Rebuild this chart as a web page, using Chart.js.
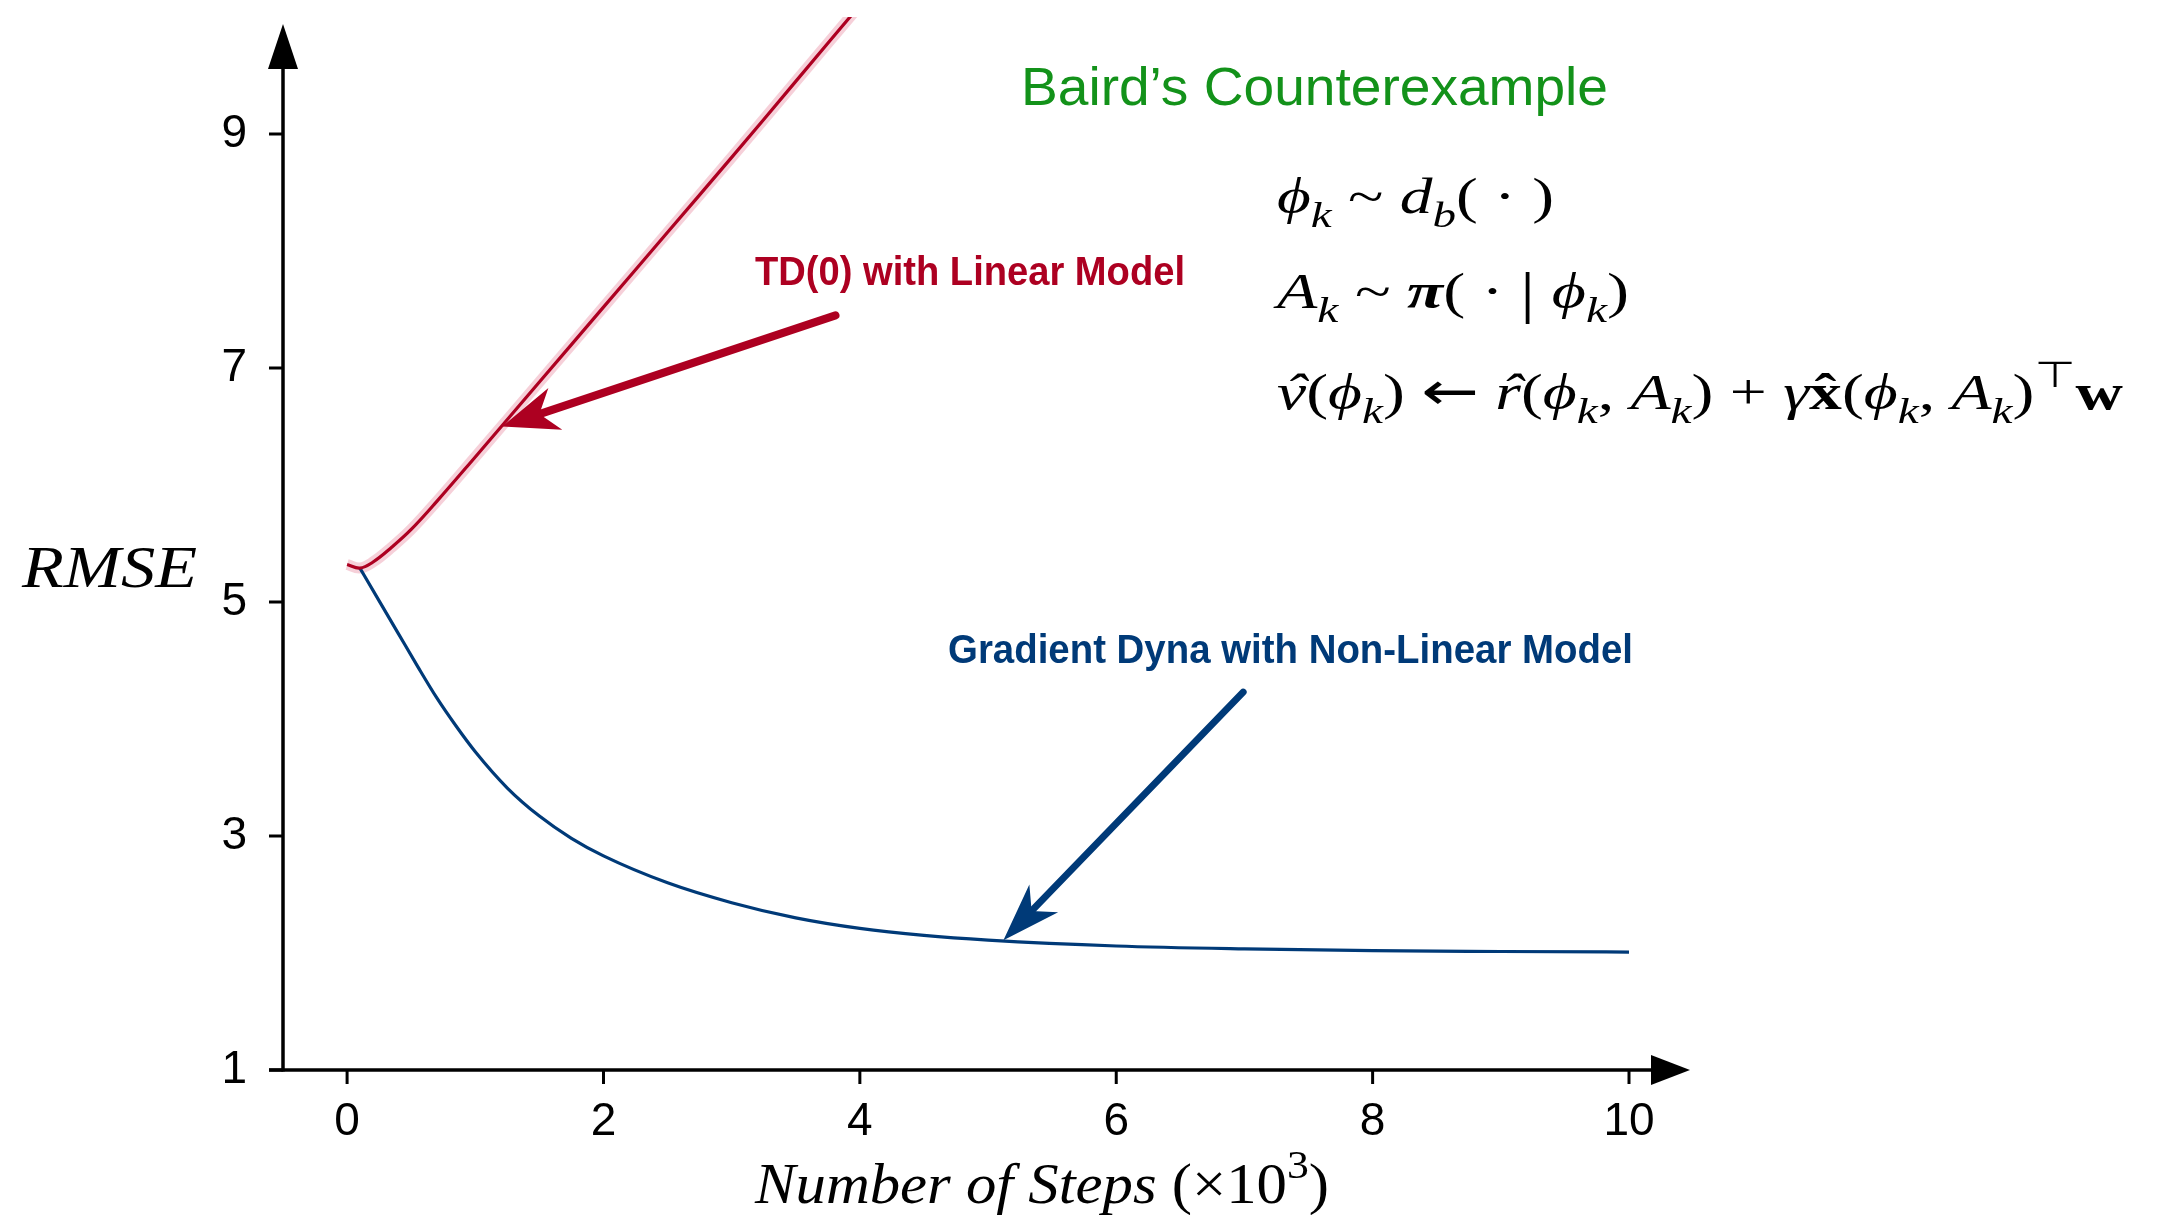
<!DOCTYPE html>
<html>
<head>
<meta charset="utf-8">
<script src="https://cdn.jsdelivr.net/npm/chart.js@4.4.0/dist/chart.umd.min.js"></script>
<style>
  html, body { margin: 0; padding: 0; background: #fff; }
</style>
</head>
<body>
<canvas id="baird_chart" width="2157" height="1215"></canvas>
<script>
// steps are in thousands
var tdSteps = [0, 0.1, 0.2, 0.35, 0.5, 0.7, 1.0, 1.5, 2.0, 2.5, 3.0, 3.5, 4.0];
var tdRmse  = [5.32, 5.29, 5.34, 5.47, 5.62, 5.86, 6.24, 6.88, 7.52, 8.16, 8.80, 9.45, 10.10];

var dynaSteps = [0.1, 0.25, 0.4, 0.55, 0.7, 0.85, 1.0, 1.25, 1.5, 1.75, 2.0, 2.5, 3.0, 3.5, 4.0, 4.5, 5.0, 6.0, 7.0, 8.0, 9.0, 10];
var dynaRmse  = [5.29, 5.01, 4.73, 4.45, 4.18, 3.94, 3.72, 3.41, 3.17, 2.98, 2.83, 2.60, 2.43, 2.30, 2.21, 2.15, 2.11, 2.06, 2.035, 2.02, 2.013, 2.008];

var xTicks = [0, 2, 4, 6, 8, 10];
var yTicks = [1, 3, 5, 7, 9];

var RED = '#ad0021';
var BLUE = '#003a78';
var GREEN = '#13921a';

function toPoints(xs, ys) {
  var pts = [];
  for (var i = 0; i < xs.length; i++) pts.push({x: xs[i], y: ys[i]});
  return pts;
}

function fitText(ctx, text, left, base, w, font, color) {
  ctx.save();
  ctx.font = font;
  ctx.fillStyle = color;
  ctx.textAlign = 'left';
  ctx.textBaseline = 'alphabetic';
  var s = w / ctx.measureText(text).width;
  ctx.translate(left, base);
  ctx.scale(s, 1);
  ctx.fillText(text, 0, 0);
  ctx.restore();
}

// little rich text drawer for the formulas (sub/sup, italic, bold, hats)
function partFont(p, size, fam) {
  var s = (p.sub || p.sup) ? size * 0.72 : size * (p.k || 1);
  return (p.i ? 'italic ' : '') + (p.b ? 'bold ' : '') + s + 'px ' + (p.f || fam);
}
function richWidth(ctx, parts, size, fam) {
  var w = 0;
  parts.forEach(function(p) {
    ctx.font = partFont(p, size, fam);
    w += ctx.measureText(p.t).width;
  });
  return w;
}
function drawRich(ctx, parts, left, base, size, fam, targetW) {
  ctx.save();
  ctx.fillStyle = '#000';
  ctx.textAlign = 'left';
  ctx.textBaseline = 'alphabetic';
  var s = targetW ? targetW / richWidth(ctx, parts, size, fam) : 1;
  ctx.translate(left, base);
  ctx.scale(s, 1);
  var x = 0;
  parts.forEach(function(p) {
    ctx.font = partFont(p, size, fam);
    var dy = p.sub ? size * 0.28 : (p.sup ? -size * 0.45 : (p.dy || 0));
    ctx.fillText(p.t, x, dy);
    var w = ctx.measureText(p.t).width;
    if (p.hat) {
      var hw = ctx.measureText('\u02C6').width;
      ctx.fillText('\u02C6', x + (w - hw) / 2 + (p.i ? size * 0.06 : 0), dy);
    }
    x += w;
  });
  ctx.restore();
}

function arrow(ctx, x1, y1, x2, y2, color, lw, headLen, headHalf) {
  var a = Math.atan2(y2 - y1, x2 - x1);
  var c = Math.cos(a), s = Math.sin(a);
  var nx = x2 - c * headLen * 0.7, ny = y2 - s * headLen * 0.7;
  ctx.save();
  ctx.strokeStyle = color;
  ctx.fillStyle = color;
  ctx.lineWidth = lw;
  ctx.lineCap = 'round';
  ctx.beginPath();
  ctx.moveTo(x1, y1);
  ctx.lineTo(nx, ny);
  ctx.stroke();
  var bx = x2 - c * headLen, by = y2 - s * headLen;
  ctx.beginPath();
  ctx.moveTo(x2, y2);
  ctx.lineTo(bx - s * headHalf, by + c * headHalf);
  ctx.lineTo(nx, ny);
  ctx.lineTo(bx + s * headHalf, by - c * headHalf);
  ctx.closePath();
  ctx.fill();
  ctx.restore();
}

var decorations = {
  id: 'decorations',
  afterDraw: function(chart) {
    var ctx = chart.ctx;
    var xs = chart.scales.x, ys = chart.scales.y;
    var x0 = xs.getPixelForValue(-0.5);
    var yb = ys.getPixelForValue(1);

    ctx.save();
    ctx.strokeStyle = '#000';
    ctx.fillStyle = '#000';
    ctx.lineWidth = 3.5;
    ctx.lineCap = 'butt';
    // y axis + arrow
    ctx.beginPath();
    ctx.moveTo(x0, yb + 1.5);
    ctx.lineTo(x0, 60);
    ctx.stroke();
    ctx.beginPath();
    ctx.moveTo(x0, 24);
    ctx.lineTo(x0 - 15, 69);
    ctx.lineTo(x0 + 15, 69);
    ctx.closePath();
    ctx.fill();
    // x axis + arrow
    ctx.beginPath();
    ctx.moveTo(x0 - 14, yb);
    ctx.lineTo(1660, yb);
    ctx.stroke();
    ctx.beginPath();
    ctx.moveTo(1690, yb);
    ctx.lineTo(1651, yb - 15);
    ctx.lineTo(1651, yb + 15);
    ctx.closePath();
    ctx.fill();
    // tick marks
    ctx.lineWidth = 3;
    yTicks.forEach(function(v) {
      var p = ys.getPixelForValue(v);
      ctx.beginPath(); ctx.moveTo(x0 - 14, p); ctx.lineTo(x0, p); ctx.stroke();
    });
    xTicks.forEach(function(v) {
      var p = xs.getPixelForValue(v);
      ctx.beginPath(); ctx.moveTo(p, yb); ctx.lineTo(p, yb + 14); ctx.stroke();
    });
    ctx.restore();

    // axis titles
    fitText(ctx, 'RMSE', 22, 587, 175, 'italic 60px "Liberation Serif"', '#000');
    drawRich(ctx, [
      {t: 'Number of Steps ', i: true},
      {t: '(\u00D710'},
      {t: '3', sup: true},
      {t: ')'}
    ], 755, 1203, 56, '"Liberation Serif"', 574);

    // title and formulas
    fitText(ctx, 'Baird\u2019s Counterexample', 1021, 105, 587, '53px "Liberation Sans"', GREEN);
    var fam = '"Liberation Serif"';
    drawRich(ctx, [
      {t: '\u03D5', i: true}, {t: 'k', i: true, sub: true}, {t: ' ~ '},
      {t: 'd', i: true}, {t: 'b', i: true, sub: true}, {t: '( \u00B7 )'}
    ], 1277, 213, 50, fam, 277);
    drawRich(ctx, [
      {t: 'A', i: true}, {t: 'k', i: true, sub: true}, {t: ' ~ '},
      {t: '\u03C0', i: true, b: true}, {t: '( \u00B7 '}, {t: '|', k: 1.15, dy: 4}, {t: ' '}, {t: '\u03D5', i: true},
      {t: 'k', i: true, sub: true}, {t: ')'}
    ], 1277, 308, 50, fam, 352);
    drawRich(ctx, [
      {t: 'v', i: true, hat: true}, {t: '('}, {t: '\u03D5', i: true}, {t: 'k', i: true, sub: true},
      {t: ') '}, {t: '\u2190', f: '"DejaVu Sans"', k: 1.05}, {t: ' '}, {t: 'r', i: true, hat: true}, {t: '('}, {t: '\u03D5', i: true},
      {t: 'k', i: true, sub: true}, {t: ', '}, {t: 'A', i: true}, {t: 'k', i: true, sub: true},
      {t: ') + '}, {t: '\u03B3', i: true}, {t: 'x', b: true, hat: true}, {t: '('},
      {t: '\u03D5', i: true}, {t: 'k', i: true, sub: true}, {t: ', '}, {t: 'A', i: true},
      {t: 'k', i: true, sub: true}, {t: ')'}, {t: '\u22A4', sup: true, f: '"DejaVu Sans"'},
      {t: 'w', b: true}
    ], 1277, 409, 50, fam, 846);

    // annotations
    fitText(ctx, 'TD(0) with Linear Model', 755, 285, 430, 'bold 40px "Liberation Sans"', RED);
    arrow(ctx, xs.getPixelForValue(3.81), ys.getPixelForValue(7.45),
      xs.getPixelForValue(1.21), ys.getPixelForValue(6.50), RED, 8, 56, 22);
    fitText(ctx, 'Gradient Dyna with Non-Linear Model', 948, 663, 685, 'bold 40px "Liberation Sans"', BLUE);
    arrow(ctx, xs.getPixelForValue(6.99), ys.getPixelForValue(4.23),
      xs.getPixelForValue(5.12), ys.getPixelForValue(2.11), BLUE, 7, 58, 20);
  }
};

var lineClip = {left: 10, top: 0, right: 10, bottom: 10};

var ctx = document.getElementById('baird_chart');
var bairdChart = new Chart(ctx, {
  type: 'scatter',
  data: {
    datasets: [{
      label: 'TD(0) with Linear Model',
      data: toPoints(tdSteps, tdRmse),
      showLine: true,
      borderColor: RED,
      borderWidth: 3.2,
      pointRadius: 0,
      tension: 0.4,
      clip: lineClip,
      order: 0
    }, {
      label: 'Gradient Dyna with Non-Linear Model',
      data: toPoints(dynaSteps, dynaRmse),
      showLine: true,
      borderColor: BLUE,
      borderWidth: 3.2,
      pointRadius: 0,
      cubicInterpolationMode: 'monotone',
      clip: lineClip,
      order: 1
    }, {
      label: 'TD(0) spread',
      data: toPoints(tdSteps, tdRmse),
      showLine: true,
      borderColor: 'rgba(236, 150, 170, 0.45)',
      borderWidth: 11,
      pointRadius: 0,
      tension: 0.4,
      clip: lineClip,
      order: 2
    }]
  },
  options: {
    responsive: false,
    animation: false,
    devicePixelRatio: 1,
    layout: { padding: { top: 17, right: 528, left: 0, bottom: 0 } },
    plugins: { legend: { display: false }, tooltip: { enabled: false } },
    scales: {
      x: {
        type: 'linear',
        min: -0.5,
        max: 10,
        afterFit: function(s) { s.height = 145; s.paddingLeft = 0; s.paddingRight = 0; },
        afterBuildTicks: function(s) { s.ticks = xTicks.map(function(v) { return {value: v}; }); },
        grid: { display: false, drawTicks: false },
        border: { display: false },
        ticks: { padding: 25, color: '#000', maxRotation: 0, autoSkip: false,
                 font: { family: '"Liberation Sans"', size: 46 } }
      },
      y: {
        type: 'linear',
        min: 1,
        max: 10,
        afterFit: function(s) { s.width = 283; s.paddingTop = 0; s.paddingBottom = 0; },
        afterBuildTicks: function(s) { s.ticks = yTicks.map(function(v) { return {value: v}; }); },
        grid: { display: false, drawTicks: false },
        border: { display: false },
        ticks: { padding: 36, color: '#000', autoSkip: false,
                 font: { family: '"Liberation Sans"', size: 46 } }
      }
    }
  },
  plugins: [decorations]
});
</script>
</body>
</html>
